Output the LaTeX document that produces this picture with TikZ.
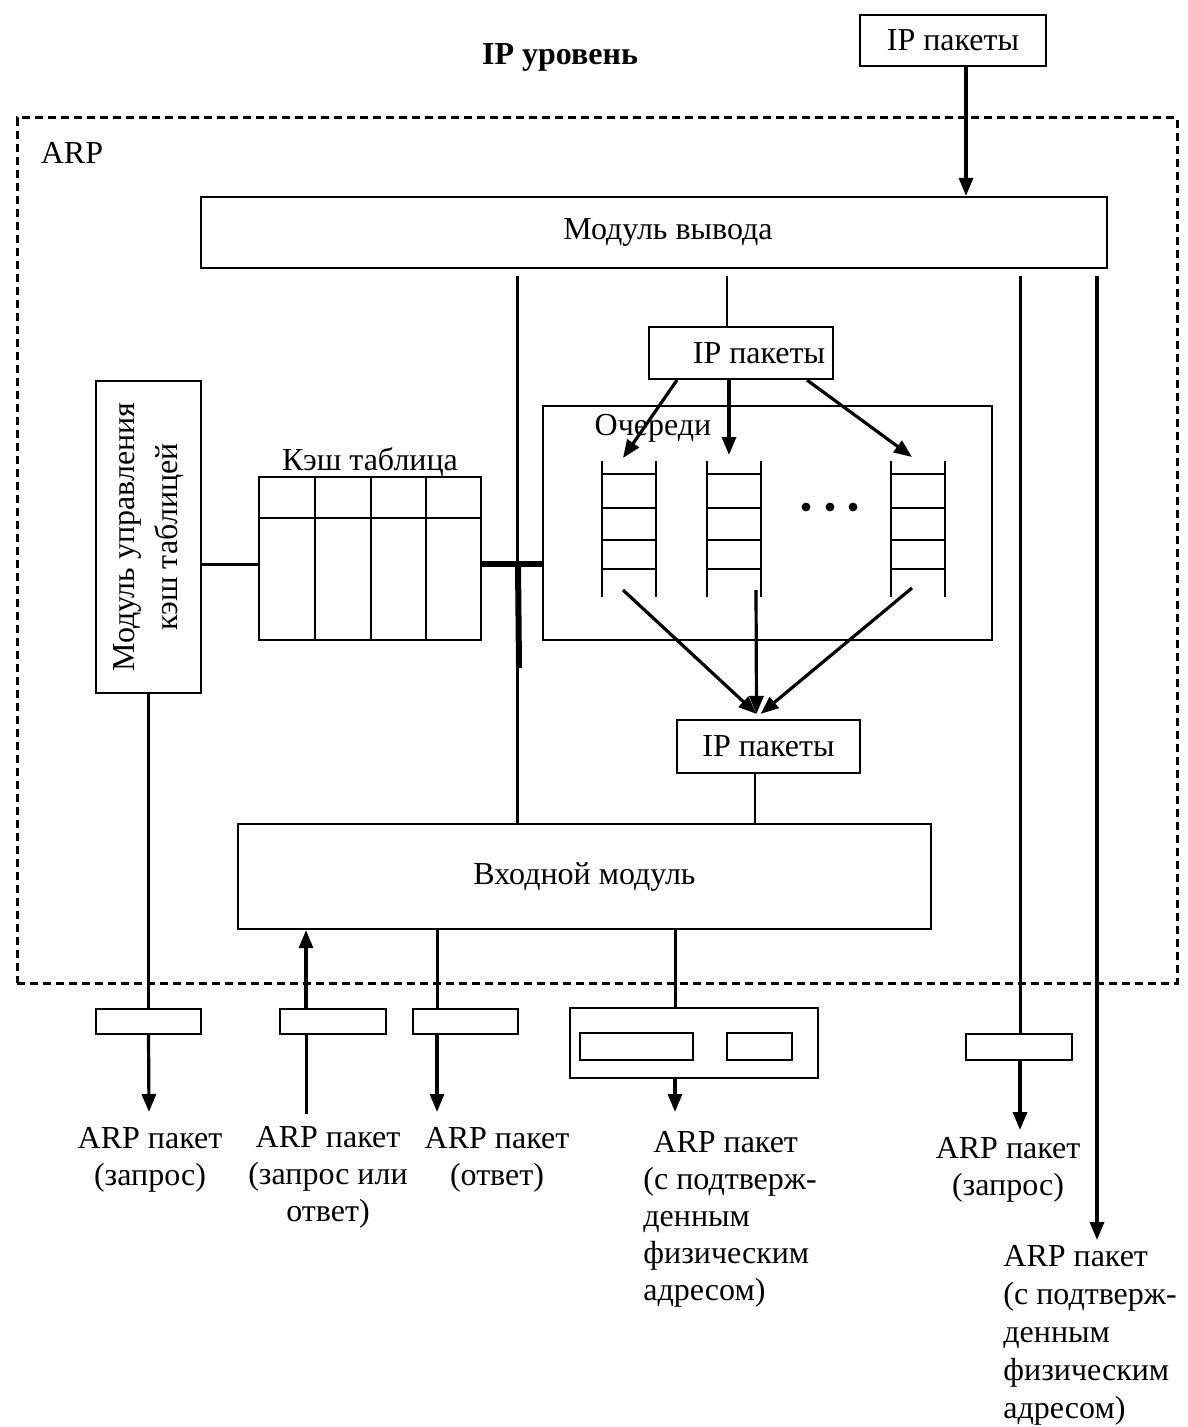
\documentclass[tikz,border=0pt]{standalone}
\usepackage{fontspec}
\setmainfont{Liberation Serif}
\usetikzlibrary{arrows.meta,calc}
\begin{document}
\begin{tikzpicture}[x=0.5pt,y=-0.5pt,
  every node/.style={font=\fontsize{16}{18.5}\selectfont},
  box/.style={draw,line width=1.1pt,inner sep=0pt,align=center},
  wbox/.style={box,fill=white},
  ln/.style={line width=1.5pt},
  thin/.style={line width=1.1pt},
  arr/.style={line width=1.6pt,-{Triangle[length=9pt,width=7pt]}},
  lbl/.style={align=center,inner sep=0pt},
  lbll/.style={align=left,inner sep=0pt,anchor=north west},
]
\useasboundingbox (0,0) rectangle (1187,1427);

% title and frame
\node[font=\fontsize{16}{18.5}\selectfont\bfseries] (title) at (560,57) {IP уровень};
\node[draw,line width=1.5pt,dash pattern=on 4pt off 2.5pt,inner sep=0pt,
      minimum width=580pt,minimum height=432.5pt] (arpbox) at (597,550.5) {};
\node (arplbl) at (72,153) {ARP};

% boxes
\node[box,minimum width=93pt,minimum height=25.5pt] (topip) at (953,40.5) {IP пакеты};
\node[box,minimum width=453pt,minimum height=35.5pt] (out) at (654,232.5) {\hspace*{14pt}Модуль вывода};
\node[box,minimum width=92pt,minimum height=26pt] (midip) at (741,353) {\hspace*{18pt}IP пакеты};
\node[box,minimum width=224.5pt,minimum height=117pt] (qbox) at (767.5,523) {};
\node (qlbl) at (653,428) {Очереди};
\node[box,minimum width=91.5pt,minimum height=26.5pt] (botip) at (768.5,746.5) {IP пакеты};
\node[box,minimum width=346.5pt,minimum height=52.5pt] (inmod) at (584.5,876.5) {Входной модуль};
\node[box,minimum width=111pt,minimum height=81.5pt] (cache) at (370,558.5) {};
\node (clbl) at (370,462) {Кэш таблица};
\node[box,minimum width=52.5pt,minimum height=156pt] (cmgr) at (148.5,537) {};
\node[rotate=90,align=center] (cmgrtxt) at (cmgr.center) {Модуль управления\\[3pt]кэш таблицей};

% cache table grid
\draw[thin] ($(cache.north west)+(0,42)$) -- ($(cache.north east)+(0,42)$);
\foreach \cx in {57,113,168}
  \draw[thin] ($(cache.north west)+(\cx,0)$) -- ($(cache.south west)+(\cx,0)$);

% queues
\foreach \qx in {602,707,891} {
  \draw[line width=1.3pt] (\qx,461) -- (\qx,597) (\qx+54,461) -- (\qx+54,597);
  \foreach \ry in {474,508,540,569}
    \draw[thin] (\qx,\ry) -- (\qx+54,\ry);
}
\foreach \dx in {806,830,853} \fill (\dx,507) circle (2.2pt);

% small boxes at the bottom
\node[wbox,minimum width=52.5pt,minimum height=12.5pt] (r1) at (148.5,1021.5) {};
\node[wbox,minimum width=53pt,minimum height=12.5pt] (r2) at (333,1021.5) {};
\node[wbox,minimum width=52.5pt,minimum height=12.5pt] (r3) at (465.5,1021.5) {};
\node[wbox,minimum width=124pt,minimum height=35pt] (big) at (694,1043) {};
\node[box,minimum width=56.5pt,minimum height=13.5pt] (in1) at (636.5,1046.5) {};
\node[box,minimum width=32.5pt,minimum height=13.5pt] (in2) at (759.5,1046.5) {};
\node[wbox,minimum width=53pt,minimum height=13pt] (r4) at (1019,1047) {};

% coordinates
\coordinate (c966) at (966,0);
\coordinate (s517) at (517,276);
\coordinate (s727) at (727,276);
\coordinate (s1020) at (1020,276);
\coordinate (s1097) at (1097,276);
\coordinate (c755) at (755,0);
\coordinate (hy) at (0,564);
\coordinate (q1) at (623,458);
\coordinate (q2) at (729,455);
\coordinate (q3) at (912,457);
\coordinate (q1b) at (623,590);
\coordinate (q2b) at (756,590);
\coordinate (q3b) at (912,588);
\coordinate (e1) at (149,1112);
\coordinate (e2) at (306,1114);
\coordinate (e3) at (437,1112);
\coordinate (e4) at (675,1112);
\coordinate (e5) at (1020,1130);
\coordinate (e6) at (1097,1240);
\coordinate (tk1) at (518,565);
\coordinate (tk2) at (519,668);

% connectors
\draw[arr] (topip.south -| c966) -- (out.north -| c966);
\draw[ln] (s517) -- (inmod.north -| s517);
\draw[line width=1.1pt] (s727) -- (midip.north -| s727);
\draw[ln] (cmgr.east |- hy) -- (cache.west |- hy);
\draw[line width=3pt] (cache.east |- hy) -- (qbox.west |- hy);
\draw[line width=3pt] (tk1) -- (tk2);

\draw[arr] ($(midip.south)+(-64,0)$) -- (q1);
\draw[arr] ($(midip.south)+(-12,0)$) -- (q2);
\draw[arr] ($(midip.south)+(66,0)$) -- (q3);
\draw[arr] (q1b) -- ($(botip.north)+(-12,-5)$);
\draw[arr] (q2b) -- ($(botip.north)+(-12,-5)$);
\draw[arr] (q3b) -- ($(botip.north)+(-8,-5)$);
\draw[line width=1.1pt] (botip.south -| c755) -- (inmod.north -| c755);

\draw[ln] (cmgr.south) -- (r1.north);
\draw[arr] (r1.south) -- (e1);
\draw[ln] (e2) -- (r2.south -| e2);
\draw[arr] (r2.north -| e2) -- (inmod.south -| e2);
\draw[ln] (inmod.south -| e3) -- (r3.north -| e3);
\draw[arr] (r3.south -| e3) -- (e3);
\draw[ln] (inmod.south -| e4) -- (big.north -| e4);
\draw[arr] (big.south -| e4) -- (e4);
\draw[ln] (s1020) -- (r4.north -| s1020);
\draw[arr] (r4.south -| s1020) -- (e5);
\draw[arr] (s1097) -- (e6);

% labels
\node[lbl] (l1) at (150,1160) {ARP пакет\\(запрос)};
\node[lbl] (l2) at (328,1177) {ARP пакет\\(запрос или\\ответ)};
\node[lbl] (l3) at (497,1160) {ARP пакет\\(ответ)};
\node[lbll] (l4) at (643,1131) {\hspace*{5pt}ARP пакет\\(с подтверж-\\денным\\физическим\\адресом)};
\node[lbl] (l5) at (1008,1170) {ARP пакет\\(запрос)};
\node[lbll,font=\fontsize{16}{19}\selectfont] (l6) at (1003,1245) {ARP пакет\\(с подтверж-\\денным\\физическим\\адресом)};
\end{tikzpicture}
\end{document}
